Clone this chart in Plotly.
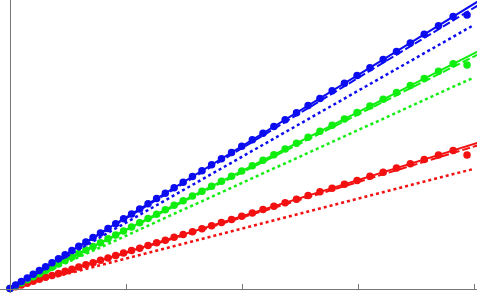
import plotly.graph_objects as go

# dot sample positions
dot_x = [0, 0.049, 0.098, 0.149, 0.200, 0.253, 0.307, 0.362, 0.418, 0.475,
         0.534, 0.593, 0.654, 0.716, 0.780, 0.845, 0.911, 0.979, 1.048, 1.118,
         1.190, 1.264, 1.339, 1.415, 1.493, 1.573, 1.655, 1.738, 1.823, 1.910,
         1.998, 2.089, 2.181, 2.275, 2.372, 2.470, 2.570, 2.672, 2.777, 2.883,
         2.992, 3.103, 3.217, 3.332, 3.451, 3.571, 3.694, 3.820, 3.940]

blue_dots = [0, 0.030, 0.060, 0.091, 0.123, 0.155, 0.188, 0.222, 0.256, 0.291,
             0.328, 0.364, 0.401, 0.439, 0.479, 0.518, 0.559, 0.601, 0.643, 0.686,
             0.730, 0.775, 0.821, 0.868, 0.916, 0.965, 1.015, 1.066, 1.118, 1.172,
             1.226, 1.282, 1.338, 1.396, 1.455, 1.515, 1.577, 1.639, 1.704, 1.769,
             1.836, 1.904, 1.974, 2.044, 2.117, 2.191, 2.266, 2.344, 2.358]

green_dots = [0, 0.025, 0.050, 0.076, 0.101, 0.128, 0.156, 0.184, 0.212, 0.241,
              0.271, 0.301, 0.332, 0.363, 0.395, 0.428, 0.462, 0.496, 0.531, 0.567,
              0.603, 0.641, 0.679, 0.717, 0.757, 0.798, 0.839, 0.881, 0.924, 0.968,
              1.013, 1.059, 1.106, 1.153, 1.203, 1.252, 1.303, 1.355, 1.408, 1.462,
              1.517, 1.573, 1.631, 1.689, 1.750, 1.810, 1.873, 1.937, 1.927]

red_dots = [0, 0.015, 0.031, 0.046, 0.062, 0.079, 0.096, 0.113, 0.130, 0.148,
            0.166, 0.185, 0.204, 0.223, 0.243, 0.263, 0.284, 0.305, 0.327, 0.348,
            0.371, 0.394, 0.417, 0.441, 0.465, 0.490, 0.516, 0.542, 0.568, 0.595,
            0.623, 0.651, 0.680, 0.709, 0.739, 0.770, 0.801, 0.833, 0.865, 0.898,
            0.932, 0.967, 1.002, 1.038, 1.075, 1.113, 1.151, 1.190, 1.151]

# fitted lines (endpoints)
line_x = [0, 4.05]
dotted_x = [0, 4.0]
blue_solid = [0, 2.485]
blue_dashed = [0, 2.450]
blue_dotted = [0, 2.272]
green_solid = [0, 2.053]
green_dashed = [0, 2.025]
green_dotted = [0, 1.820]
red_solid = [0, 1.262]
red_dashed = [0, 1.239]
red_dotted = [0, 1.032]

x_ticks = [1, 2, 3, 4]

BLUE = "#0c0cf0"
GREEN = "#10ee10"
RED = "#f21010"

fig = go.Figure()
series = [
    (BLUE, blue_solid, blue_dashed, blue_dotted, blue_dots),
    (GREEN, green_solid, green_dashed, green_dotted, green_dots),
    (RED, red_solid, red_dashed, red_dotted, red_dots),
]
for col, solid, dashed, dotted, dots in series[::-1]:
    fig.add_trace(go.Scatter(x=dotted_x, y=dotted, mode="lines",
                             line=dict(color=col, width=2.5, dash="3px,3px")))
    fig.add_trace(go.Scatter(x=line_x, y=dashed, mode="lines",
                             line=dict(color=col, width=2, dash="8px,3px")))
    fig.add_trace(go.Scatter(x=line_x, y=solid, mode="lines",
                             line=dict(color=col, width=2)))
    fig.add_trace(go.Scatter(x=dot_x, y=dots, mode="markers",
                             marker=dict(color=col, size=7.5)))

x0, x1 = -10 / 116, 467 / 116
y0, y1 = -4.5 / 116, 288.5 / 116

fig.update_layout(
    width=477, height=306,
    margin=dict(l=0, r=0, t=0, b=13),
    paper_bgcolor="white", plot_bgcolor="white",
    showlegend=False,
    xaxis=dict(range=[x0, x1], showgrid=False, zeroline=False,
               showline=True, linecolor="#777777", linewidth=1,
               anchor="free", position=(0 - y0) / (y1 - y0),
               tickvals=x_ticks, ticks="inside", ticklen=5,
               tickcolor="#777777", showticklabels=False),
    yaxis=dict(range=[y0, y1], showgrid=False, zeroline=False,
               showline=True, linecolor="#777777", linewidth=1,
               anchor="free", position=(0 - x0) / (x1 - x0),
               ticks="", showticklabels=False),
)

fig.write_html("out.html",
               config={"displayModeBar": False},
               post_script="document.body.style.margin='0';document.body.style.overflow='hidden';")
